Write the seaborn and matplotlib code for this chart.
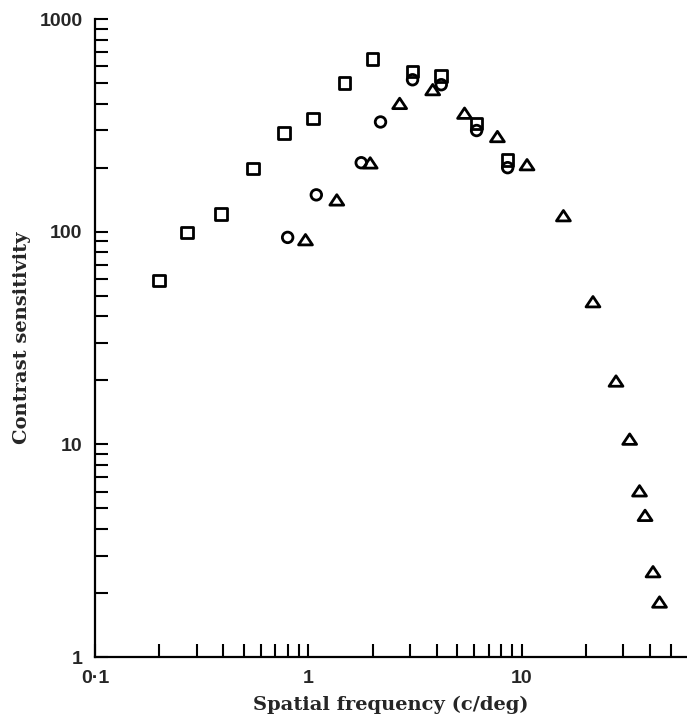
"""Contrast sensitivity vs spatial frequency — log-log scatter, three observers/conditions."""
import matplotlib
matplotlib.use("Agg")
import matplotlib.pyplot as plt
import matplotlib.ticker as mticker
from matplotlib.path import Path
import numpy as np
import pandas as pd
import seaborn as sns

# squares
freq_sq = [0.2, 0.27, 0.39, 0.55, 0.77, 1.05, 1.48, 2.0, 3.08, 4.2, 6.15, 8.6]
sens_sq = [59, 99, 121, 198, 292, 340, 500, 650, 566, 541, 322, 218]
# circles
freq_ci = [0.80, 1.09, 1.77, 2.18, 3.08, 4.2, 6.15, 8.6]
sens_ci = [94, 149, 211, 328, 518, 491, 299, 200]
# triangles
freq_tr = [0.97, 1.36, 1.95, 2.68, 3.83, 5.4, 7.7, 10.6, 15.7, 21.6, 27.7, 32.1,
           35.7, 37.9, 41.3, 44.3]
sens_tr = [91, 140, 209, 398, 462, 358, 278, 205, 118, 46.5, 19.7, 10.5,
           6.0, 4.6, 2.5, 1.8]

x_ticks = [0.1, 1, 10]
x_labels = ["0\u00b71", "1", "10"]
y_ticks = [1, 10, 100, 1000]
y_labels = ["1", "10", "100", "1000"]

df = pd.concat([
    pd.DataFrame({"freq": freq_sq, "sens": sens_sq, "series": "square"}),
    pd.DataFrame({"freq": freq_ci, "sens": sens_ci, "series": "circle"}),
    pd.DataFrame({"freq": freq_tr, "sens": sens_tr, "series": "triangle"}),
], ignore_index=True)

# flat open triangle, closed outline
tri = Path([(-1, -0.65), (1, -0.65), (0, 0.85), (-1, -0.65)],
           [Path.MOVETO, Path.LINETO, Path.LINETO, Path.CLOSEPOLY])
marker_style = {"square": ("s", 70), "circle": ("o", 58), "triangle": (tri, 100)}

sns.set_style("ticks")
plt.rcParams["font.family"] = ["DejaVu Serif"]

fig = plt.figure(figsize=(6.87, 7.15), dpi=100)
ax = fig.add_axes([0.1383, 0.0811, 0.8617, 0.8923])

for name, grp in df.groupby("series", sort=False):
    mk, size = marker_style[name]
    sns.scatterplot(data=grp, x="freq", y="sens", marker=mk, s=size,
                    facecolor="none", edgecolor="black", linewidth=2.0,
                    ax=ax, legend=False, clip_on=False, zorder=3)

ax.set_xscale("log")
ax.set_yscale("log")
ax.set_xlim(0.1, 59.6)
ax.set_ylim(1, 1000)

ax.xaxis.set_major_locator(mticker.FixedLocator(x_ticks))
ax.xaxis.set_major_formatter(mticker.FixedFormatter(x_labels))
ax.yaxis.set_major_locator(mticker.FixedLocator(y_ticks))
ax.yaxis.set_major_formatter(mticker.FixedFormatter(y_labels))
ax.xaxis.set_minor_locator(mticker.LogLocator(base=10, subs=np.arange(2, 10)))
ax.yaxis.set_minor_locator(mticker.LogLocator(base=10, subs=np.arange(2, 10)))
ax.xaxis.set_minor_formatter(mticker.NullFormatter())
ax.yaxis.set_minor_formatter(mticker.NullFormatter())

ax.tick_params(which="both", direction="in", length=9.5, width=1.5, color="black")
ax.tick_params(axis="x", which="major", pad=9)
ax.tick_params(axis="y", which="major", pad=9)
for lab in ax.get_xticklabels() + ax.get_yticklabels():
    lab.set_fontfamily("Liberation Sans")
    lab.set_fontweight("bold")
    lab.set_fontsize(14)

sns.despine(ax=ax)
for side in ("left", "bottom"):
    ax.spines[side].set_linewidth(1.6)
    ax.spines[side].set_color("black")

ax.set_xlabel("Spatial frequency (c/deg)", fontsize=14, fontweight="bold", labelpad=7)
ax.set_ylabel("Contrast sensitivity", fontsize=14, fontweight="bold", labelpad=6)

fig.savefig("out.png", dpi=100)
